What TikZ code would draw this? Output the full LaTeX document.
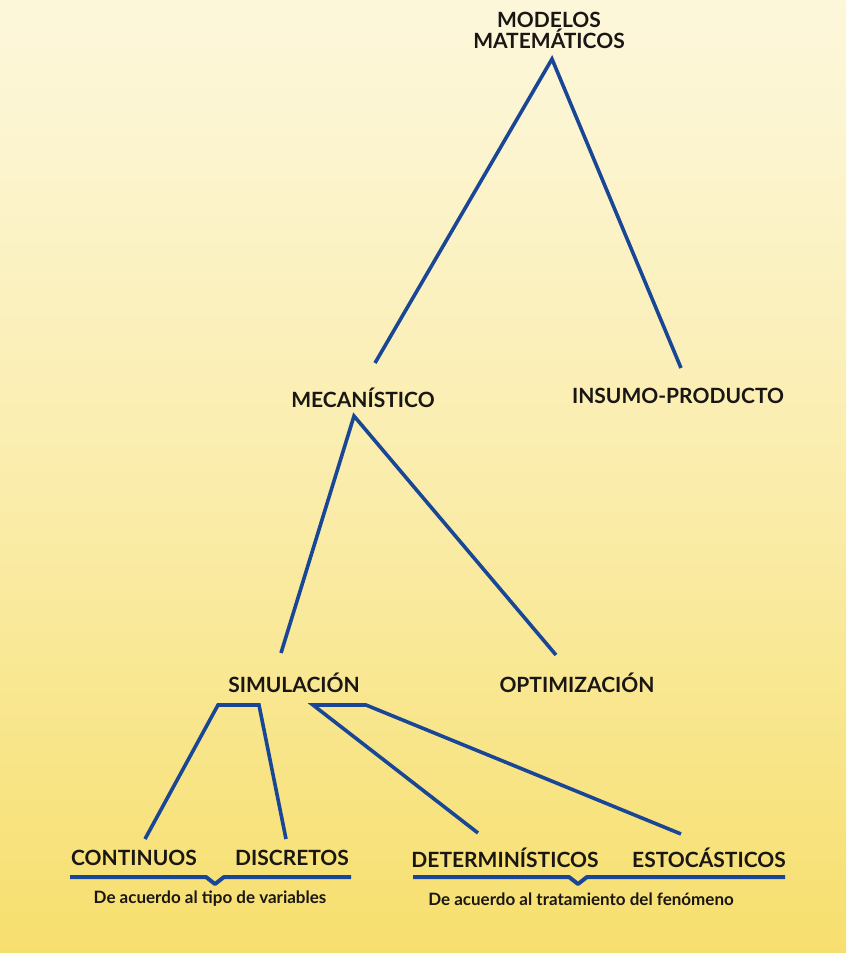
\documentclass[tikz,border=0pt]{standalone}
\usepackage{fontspec}
\setmainfont{Lato}
\definecolor{lineblue}{RGB}{26,70,150}
\definecolor{ink}{RGB}{25,22,20}
\definecolor{bgA}{RGB}{243,211,72}
\definecolor{bgB}{RGB}{247,224,115}
\definecolor{bgC}{RGB}{250,236,168}
\definecolor{bgD}{RGB}{252,245,210}
\definecolor{bgE}{RGB}{255,252,240}
\definecolor{bgF}{RGB}{255,255,255}
\pgfdeclareverticalshading{bgshade}{100bp}{color(0bp)=(bgA); color(6bp)=(bgA); color(27bp)=(bgB); color(48bp)=(bgC); color(69bp)=(bgD); color(90bp)=(bgE); color(100bp)=(bgF)}
\tikzset{
  lab/.style={inner sep=0pt, text=ink, font=\fontsize{21}{21}\selectfont\bfseries, align=center},
  sublab/.style={inner sep=0pt, text=ink, font=\fontsize{17}{17}\selectfont\bfseries},
  conn/.style={draw=lineblue, line width=3.6pt, line join=miter, line cap=butt},
  brace/.style={draw=lineblue, line width=4pt, line join=round}
}
\begin{document}
\begin{tikzpicture}[x=1pt,y=-1pt]
\useasboundingbox (0,0) rectangle (846,953);
\shade[shading=bgshade] (0,0) rectangle (846,953);

% labels
\node[lab] (mod) at (549,30) {MODELOS\\[0pt]MATEMÁTICOS};
\node[lab] (mec) at (363,398) {MECANÍSTICO};
\node[lab] (ins) at (678,396) {INSUMO-PRODUCTO};
\node[lab] (sim) at (294,683) {SIMULACIÓN};
\node[lab] (opt) at (577,683) {OPTIMIZACIÓN};
\node[lab] (con) at (134,858) {CONTINUOS};
\node[lab] (dis) at (292,858) {DISCRETOS};
\node[lab] (det) at (505,858) {DETERMINÍSTICOS};
\node[lab] (est) at (709,858) {ESTOCÁSTICOS};
\node[sublab] (var) at (210,899) {De acuerdo al tipo de variables};
\node[sublab] (fen) at (581,899) {De acuerdo al tratamiento del fenómeno};

% connector end points
\coordinate (modA) at (552,59);
\coordinate (mecT) at (375,363);
\coordinate (insT) at (681,368);
\coordinate (mecA) at (354,416);
\coordinate (simT) at (281,653);
\coordinate (optT) at (556,655);
\coordinate (simL1) at (218,705);
\coordinate (simL2) at (259,705);
\coordinate (simR1) at (313,705);
\coordinate (simR2) at (366,705);
\coordinate (conT) at (145,839);
\coordinate (disT) at (286,839);
\coordinate (detT) at (478,833);
\coordinate (estT) at (681,834);
\coordinate (vbL) at (70,877);
\coordinate (vbR) at (351,877);
\coordinate (vbN) at (215,884);
\coordinate (fbL) at (413,877);
\coordinate (fbR) at (785,877);
\coordinate (fbN) at (578,884);

% connectors
\draw[conn] (mecT) -- (modA) -- (insT);
\draw[conn] (simT) -- (mecA) -- (optT);
\draw[conn] (conT) -- (simL1) -- (simL2) -- (disT);
\draw[conn] (detT) -- (simR1) -- (simR2) -- (estT);

% braces
\draw[brace] (vbL) -- ([xshift=-9pt]vbN |- vbL) -- (vbN) -- ([xshift=9pt]vbN |- vbL) -- (vbR);
\draw[brace] (fbL) -- ([xshift=-9pt]fbN |- fbL) -- (fbN) -- ([xshift=9pt]fbN |- fbL) -- (fbR);
\end{tikzpicture}
\end{document}
